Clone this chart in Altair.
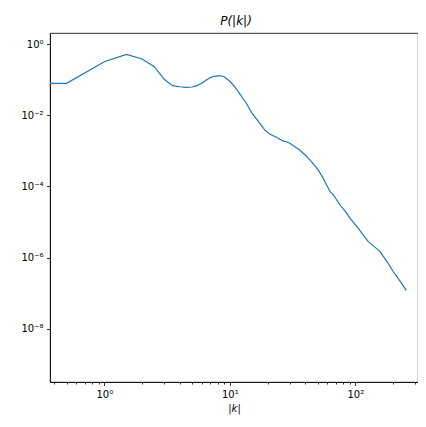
import altair as alt
import pandas as pd

# |k| bins and power spectrum values
k_values = [0.3, 0.5, 1.0, 1.5, 2.0, 2.5, 3.0, 3.5, 4.0, 4.5, 5.0, 5.5, 6.0, 6.5,
            7.0, 7.5, 8.0, 8.5, 9.0, 10, 11, 12, 13.5, 15, 17, 19, 21, 23.5, 25,
            27, 28.4, 30, 33, 36, 40, 44, 50, 55, 63, 67, 75, 85, 91, 105, 115,
            126, 140, 157, 180, 201, 225, 255]
p_values = [0.0787, 0.0787, 0.318, 0.513, 0.379, 0.23, 0.102, 0.0675, 0.063,
            0.0607, 0.062, 0.068, 0.08, 0.097, 0.114, 0.124, 0.128, 0.128,
            0.12, 0.09, 0.062, 0.04, 0.022, 0.0115, 0.0065, 0.00384, 0.0029,
            0.0024, 0.0021, 0.00185, 0.0018, 0.00163, 0.0013, 0.00105,
            0.00075, 0.00053, 0.00031, 0.00018, 0.000071, 0.000058, 0.000031,
            0.000018, 0.0000126, 0.0000068, 0.0000044, 0.0000029, 0.0000021,
            0.0000015, 0.00000075, 0.0000004, 0.00000023, 0.00000012]

x_domain = [0.369, 316]
y_domain = [3.2e-10, 2.04]

x_ticks = [0.4, 0.5, 0.6, 0.7, 0.8, 0.9, 1, 2, 3, 4, 5, 6, 7, 8, 9, 10,
           20, 30, 40, 50, 60, 70, 80, 90, 100, 200, 300]
y_ticks = [1, 1e-2, 1e-4, 1e-6, 1e-8]

df = pd.DataFrame({"k": k_values, "P": p_values})

exp_expr = "round(log(datum.value)/LN10)"
is_major = f"abs(log(datum.value)/LN10 - {exp_expr}) < 1e-6"
label_expr = (f"{is_major} ? '10' + replace(replace(replace(replace(replace("
              f"replace(replace(replace(replace(replace(replace(toString({exp_expr}),"
              "'-','⁻'),'0','⁰'),'1','¹'),'2','²'),'3','³'),'4','⁴'),'5','⁵'),"
              "'6','⁶'),'7','⁷'),'8','⁸'),'9','⁹') : ''")

font = "DejaVu Sans"

chart = alt.Chart(df).mark_line(color="#1f77b4", strokeWidth=1.2, clip=True).encode(
    x=alt.X("k:Q",
            scale=alt.Scale(type="log", domain=x_domain, nice=False),
            axis=alt.Axis(values=x_ticks, labelExpr=label_expr, title="|k|",
                          tickSize={"condition": {"test": is_major, "value": 3.5}, "value": 2},
                          labelFlush=False, labelOverlap=False, grid=False,
                          titleFontStyle="italic", titlePadding=4)),
    y=alt.Y("P:Q",
            scale=alt.Scale(type="log", domain=y_domain, nice=False),
            axis=alt.Axis(values=y_ticks, labelExpr=label_expr, title=None,
                          tickSize=3.5, labelFlush=False, labelOverlap=False,
                          grid=False)),
).properties(
    width=368,
    height=349,
    title=alt.TitleParams("P(|k|)", fontStyle="italic", fontSize=12,
                          fontWeight="normal", font=font, offset=5, color="#000",
                          dx=2),
    autosize=alt.AutoSizeParams(type="none"),
    padding={"left": 42, "top": 25, "right": 0, "bottom": 36},
).configure_axis(
    labelFont=font, labelFontSize=10, labelColor="#000", labelPadding=3.5,
    titleFont=font, titleFontSize=10, titleFontWeight="normal", titleColor="#000",
    domainColor="#000", domainWidth=0.8, tickColor="#000", tickWidth=0.8,
).configure_view(
    stroke="#000", strokeWidth=0.8,
)

chart.save("out.html", embed_options={"renderer": "svg", "actions": False})
